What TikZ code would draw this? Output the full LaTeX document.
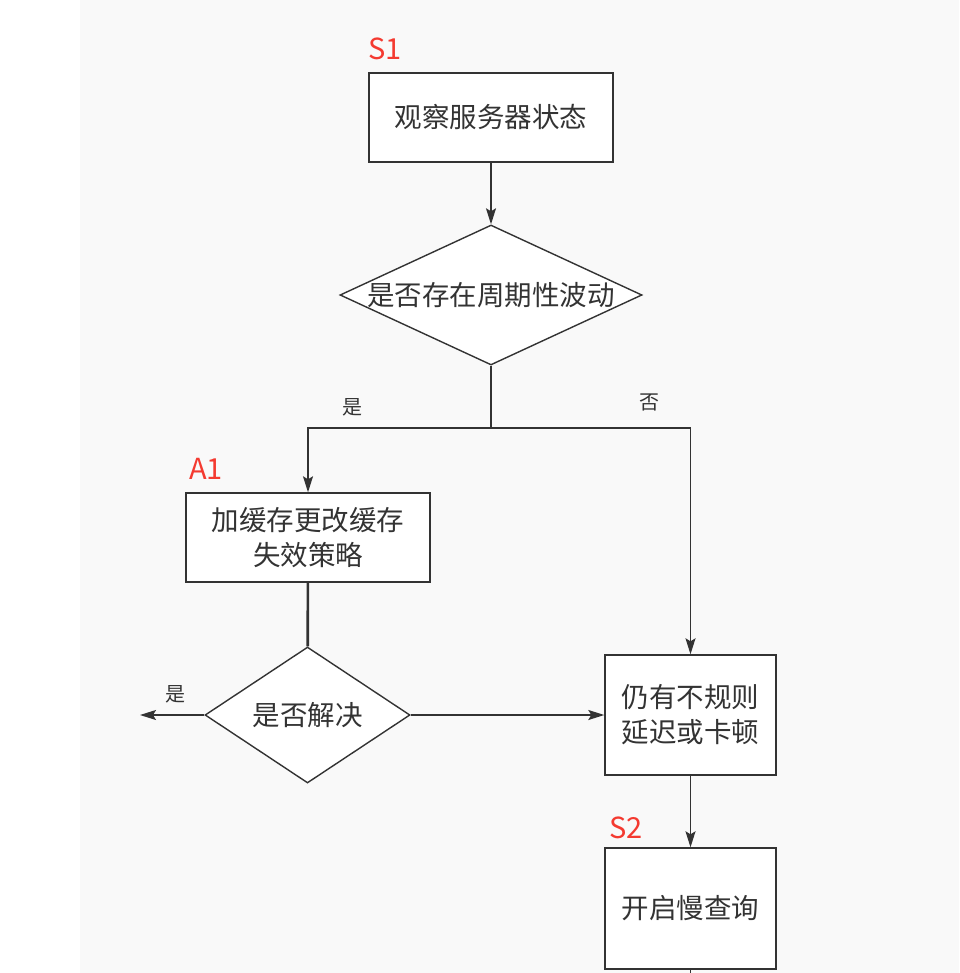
\documentclass[tikz,border=0pt]{standalone}
\usepackage{fontspec}
\newfontfamily\cjk{Noto Sans CJK SC}
\usetikzlibrary{shapes.geometric,arrows.meta}
\definecolor{ink}{RGB}{51,51,51}
\definecolor{tagred}{RGB}{244,58,48}
\definecolor{canvas}{RGB}{249,249,249}

\begin{document}
\begin{tikzpicture}[x=1pt,y=1pt,yscale=-1,xscale=1,
  box/.style={draw=ink,line width=1.4pt,fill=white,inner sep=0pt,font=\cjk\fontsize{27.5}{35}\selectfont,text=ink,align=center},
  ask/.style={diamond,draw=ink,line width=1.4pt,fill=white,inner sep=0pt,font=\cjk\fontsize{27.5}{35}\selectfont,text=ink},
  tag/.style={font=\cjk\fontsize{29}{34}\selectfont,text=tagred,inner sep=0pt},
  yesno/.style={font=\cjk\fontsize{20}{24}\selectfont,text=ink,inner sep=0pt},
  link/.style={draw=ink,line width=1.4pt},
  arr/.style={link,-{Stealth[length=16pt,width=10pt,inset=3pt]}}]
\useasboundingbox (0,0) rectangle (959,973);
%Shape: Background
\fill[white] (0,0) rectangle (80,973);
\fill[canvas] (80,0) rectangle (959,973);
%Shape: Rectangle
\node[box,minimum width=244,minimum height=89] (watch) at (491,117.5) {观察服务器状态};
%Shape: Diamond
\node[ask,minimum width=302,minimum height=140,aspect=2.16,inner sep=-3pt] (wave) at (491,295) {是否存在周期性波动};
%Shape: Rectangle
\node[box,minimum width=244,minimum height=89] (cache) at (308,537.5) {加缓存更改缓存\\失效策略};
%Shape: Diamond
\node[ask,minimum width=205,minimum height=136] (solved) at (307.5,715) {是否解决};
%Shape: Rectangle
\node[box,minimum width=171,minimum height=120] (still) at (690.5,715) {仍有不规则\\延迟或卡顿};
%Shape: Rectangle
\node[box,minimum width=171,minimum height=121] (slowlog) at (690.5,908.5) {开启慢查询};
\coordinate (fork) at (491,428);
\coordinate (out) at (140,715);
\coordinate (down) at (690.5,973);
%Straight Lines
\draw[arr] (watch) -- (wave);
\draw[link] (wave) -- (fork);
\draw[arr] (fork) -| (cache);
\draw[arr] (fork) -| (still);
\draw[link,line width=2.6pt] (cache) -- (solved);
\draw[arr] (solved) -- (out);
\draw[arr] (solved) -- (still);
\draw[arr] (still) -- (slowlog);
\draw[link] (slowlog) -- (down);
% Text Node
\node[tag,anchor=base west] (s1) at (368,60) {S1};
\node[tag,anchor=base west] (a1) at (189,479) {A1};
\node[tag,anchor=base west] (s2) at (609,838) {S2};
\node[yesno] (yes1) at (352,407) {是};
\node[yesno] (no1) at (649,402) {否};
\node[yesno] (yes2) at (175,694) {是};
\end{tikzpicture}
\end{document}
